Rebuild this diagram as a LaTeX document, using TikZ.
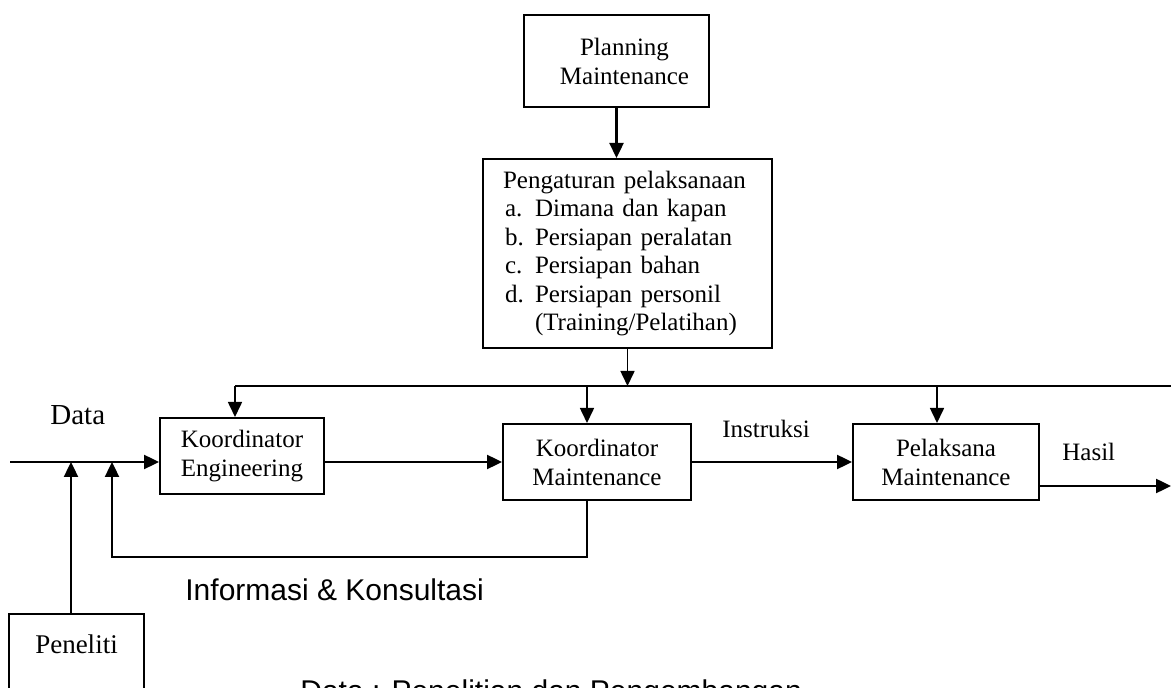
\documentclass[tikz,border=0pt]{standalone}
\usepackage{fontspec}
\setmainfont{Liberation Serif}
\newfontfamily\arialfont{Liberation Sans}
\usetikzlibrary{arrows.meta}
\tikzset{>={Triangle[length=7.5pt,width=7pt]}}
\tikzset{
    blok/.style={draw, line width=1pt, align=center, inner sep=2pt,
        minimum height=38pt, font=\fontsize{12.5}{14.5}\selectfont},
    conn/.style={->, line width=1.2pt},
    busline/.style={line width=0.8pt},
    busarr/.style={->, line width=0.8pt},
    tulisan/.style={anchor=base west, inner sep=0pt, font=\fontsize{12.5}{14}\selectfont},
    tulisansans/.style={anchor=base west, inner sep=0pt, font=\arialfont\fontsize{15}{18}\selectfont}
}
\newcommand{\butir}[1]{\hspace*{1pt}\makebox[15pt][l]{#1}}

\begin{document}
\begin{tikzpicture}[x=0.5pt, y=-0.5pt]
    \useasboundingbox (0,0) rectangle (1171,688);
    \clip (0,0) rectangle (1171,688);

    \node[blok, minimum width=92.5pt, minimum height=46pt] (plan) at (616.5,61) {\hspace*{8pt}Planning\\\hspace*{8pt}Maintenance};
    \node[blok, minimum width=144.5pt, minimum height=94.5pt, text width=124.5pt, align=left,
        inner xsep=10pt, font=\fontsize{12.5}{14.2}\selectfont] (peng) at (627.5,253.5)
        {Pengaturan pelaksanaan\\
         \butir{a.}Dimana dan kapan\\
         \butir{b.}Persiapan peralatan\\
         \butir{c.}Persiapan bahan\\
         \butir{d.}Persiapan personil\\
         \butir{}(Training/Pelatihan)};
    \node[blok, minimum width=82pt] (ke) at (242,456) {Koordinator\\Engineering};
    \node[blok, minimum width=94pt] (km) at (597,462) {Koordinator\\Maintenance};
    \node[blok, minimum width=93pt] (pm) at (946,462) {Pelaksana\\Maintenance};
    \node[draw, line width=1pt, anchor=north, minimum width=67.5pt, inner ysep=4pt,
        text height=15.5pt, text depth=30pt, font=\fontsize{13.5}{15}\selectfont] (pen) at (76.5,613) {Peneliti};

    \node[tulisan, font=\fontsize{14.5}{16}\selectfont] (ldata) at (50,425) {Data};
    \node[tulisan] (linstruksi) at (722,438) {Instruksi};
    \node[tulisan] (lhasil) at (1062,461) {Hasil};
    \node[tulisansans] (linfo) at (185,600) {Informasi \& Konsultasi};
    \node[tulisansans] (lket) at (300,701) {Data : Penelitian dan Pengembangan};

    \coordinate (din) at (10,462);
    \coordinate (bl) at (235,386);
    \coordinate (br) at (1171,386);
    \coordinate (hout) at (1171,486);
    \coordinate (fbin) at (112,462);
    \coordinate (fbpojok) at (112,557);
    \coordinate (penin) at (71,462);

    \draw[conn] (plan.south) -- (plan.south |- peng.north);
    \draw[busline] (bl) -- (br);
    \draw[busarr] (peng.south) -- (peng.south |- bl);
    \draw[busarr] (bl) -- (bl |- ke.north);
    \draw[busarr] ([xshift=-5pt]km.north |- bl) -- ([xshift=-5pt]km.north);
    \draw[busarr] ([xshift=-4.5pt]pm.north |- bl) -- ([xshift=-4.5pt]pm.north);
    \draw[conn] (din) -- (din -| ke.west);
    \draw[conn] (ke.east |- din) -- (km.west);
    \draw[conn] (km.east) -- (pm.west);
    \draw[conn] (hout -| pm.east) -- (hout);
    \draw[conn] ([xshift=-5pt]km.south) |- (fbpojok) -- (fbin);
    \draw[conn] (penin |- pen.north) -- (penin);
\end{tikzpicture}
\end{document}
